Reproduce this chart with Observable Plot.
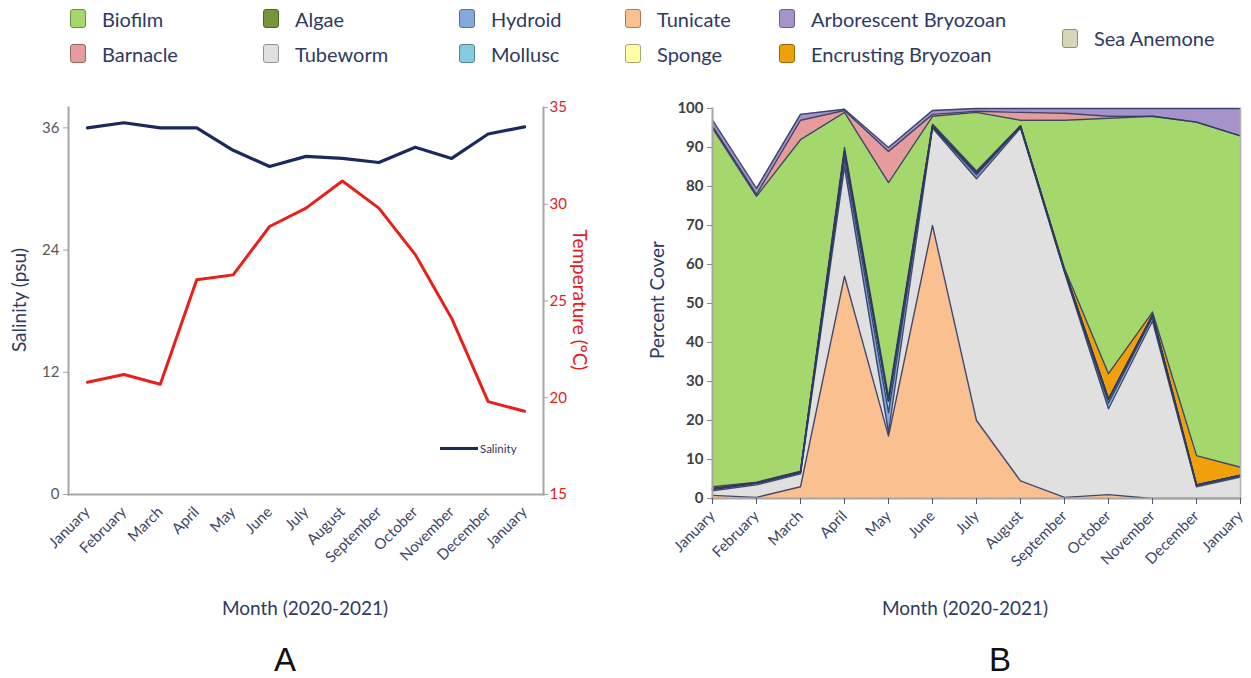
<!DOCTYPE html>
<html>
<head>
<meta charset="utf-8">
<script src="https://cdn.jsdelivr.net/npm/d3@7"></script>
<script src="https://cdn.jsdelivr.net/npm/@observablehq/plot@0.6"></script>
<style>
  html, body { margin: 0; padding: 0; background: #fff; }
  body { width: 1251px; height: 678px; position: relative; overflow: hidden; font-family: Lato, "Open Sans", sans-serif; }
  .abs { position: absolute; }
  #legend { position: absolute; left: 70px; top: 1px; display: grid;
    grid-template-columns: 193px 196px 166px 154px 283px auto; grid-template-rows: 35px 35px; }
  .item { display: flex; align-items: center; font-size: 20px; color: #2e3a63; white-space: nowrap; }
  .sw { width: 16px; height: 19px; border-radius: 3px; margin-right: 16px; box-sizing: border-box; border: 1.5px solid; }
  .xtitle { position: absolute; font-size: 19px; color: #2e3a63; transform: translate(-50%, -50%); white-space: nowrap; }
  .ytitle { position: absolute; font-size: 19px; color: #2e3a63; white-space: nowrap; }
  .panel { position: absolute; font-family: "Liberation Sans", Arial, sans-serif; font-size: 33px; color: #111; transform: translate(-50%, -50%); }
  svg g[aria-label="y-axis tick label"] { font-size: 15px; }
  svg g[aria-label="x-axis tick label"] { font-size: 15px; }
</style>
</head>
<body>
<div id="legend"></div>
<div id="chartA" class="abs" style="left:0px;top:90px;"></div>
<div id="chartB" class="abs" style="left:620px;top:90px;"></div>
<div class="ytitle" style="left:18px;top:300px;transform:translate(-50%,-50%) rotate(-90deg);">Salinity (psu)</div>
<div class="ytitle" style="left:580px;top:300px;color:#e0201c;transform:translate(-50%,-50%) rotate(90deg);">Temperature (°C)</div>
<div class="ytitle" style="left:656px;top:300px;transform:translate(-50%,-50%) rotate(-90deg);">Percent Cover</div>
<div class="xtitle" style="left:305px;top:607px;">Month (2020-2021)</div>
<div class="xtitle" style="left:965px;top:607px;">Month (2020-2021)</div>
<div class="panel" style="left:285px;top:660px;">A</div>
<div class="panel" style="left:1000px;top:660px;">B</div>
<div class="abs" style="left:440px;top:439px;display:flex;align-items:center;height:18px;">
  <div style="width:38px;height:3px;background:#1b2a5c;"></div>
  <div style="font-size:11.5px;color:#2e3a63;margin-left:2px;">Salinity</div>
</div>
<script>
// ---------- DATA ----------
const months = ["January","February","March","April","May","June","July","August","September","October","November","December","January"];
const salinity = [36.0, 36.5, 36.0, 36.0, 33.8, 32.2, 33.2, 33.0, 32.6, 34.1, 33.0, 35.4, 36.1];
const temperature = [20.8, 21.2, 20.7, 26.1, 26.35, 28.85, 29.8, 31.2, 29.8, 27.4, 24.1, 19.8, 19.3];
const salinityTicks = [0, 12, 24, 36];
const temperatureTicks = [15, 20, 25, 30, 35];
const coverTicks = [0, 10, 20, 30, 40, 50, 60, 70, 80, 90, 100];

// stacked from bottom to top
const seriesNames = ["Tunicate","Tubeworm","Hydroid","Mollusc","Sponge","Sea Anemone","Algae","Encrusting Bryozoan","Biofilm","Barnacle","Arborescent Bryozoan"];
const tunicate    = [0.8, 0.3, 3, 57, 16, 70, 20, 4.5, 0.3, 1, 0, 0, 0];
const tubeworm    = [1.2, 3.2, 3.3, 28, 1, 25, 62, 90.5, 57.7, 22, 45.5, 3, 5.5];
const hydroid     = [0.3, 0.3, 0.3, 2, 5, 0.3, 1, 0.3, 0.3, 1.5, 1, 0.3, 0.3];
const mollusc     = [0.2, 0.2, 0.2, 2, 3, 0.2, 0.5, 0.2, 0.2, 1, 0.5, 0.2, 0.2];
const sponge      = [0, 0, 0, 0, 0, 0, 0, 0, 0, 0, 0, 0, 0];
const seaAnemone  = [0, 0, 0, 0, 0, 0, 0, 0, 0, 0, 0, 0, 0];
const algae       = [0, 0, 0, 0, 0, 0, 0, 0, 0, 0, 0, 0, 0];
const encrusting  = [0.5, 0.2, 0.2, 1, 1, 0.5, 0.5, 0.1, 0.5, 6.5, 0.8, 7.5, 2];
const biofilm     = [92, 73.3, 85, 9, 55, 2, 15, 1.4, 38, 65.5, 50.2, 85.5, 85];
const barnacle    = [0.5, 0.5, 5, 0.5, 8, 0.5, 0.3, 2, 1.8, 0.5, 0, 0, 0];
const arborescent = [1.5, 1.5, 1.5, 0.3, 1, 1, 0.7, 1, 1.2, 2, 2, 3.5, 7];

// legend order
const legendNames = ["Biofilm","Algae","Hydroid","Tunicate","Arborescent Bryozoan","Sea Anemone","Barnacle","Tubeworm","Mollusc","Sponge","Encrusting Bryozoan"];
const seriesColors = {
  "Biofilm": "#a5d86c", "Barnacle": "#e69c9c", "Algae": "#76963c", "Tubeworm": "#e0e0e0",
  "Hydroid": "#86a9dc", "Mollusc": "#86cce0", "Tunicate": "#fac08f", "Sponge": "#ffffa8",
  "Arborescent Bryozoan": "#a693c9", "Encrusting Bryozoan": "#f0a00a", "Sea Anemone": "#d8d5bb"
};

// ---------- LEGEND ----------
const legend = document.getElementById("legend");
const place = {
  "Biofilm": [1,1], "Algae": [2,1], "Hydroid": [3,1], "Tunicate": [4,1], "Arborescent Bryozoan": [5,1],
  "Barnacle": [1,2], "Tubeworm": [2,2], "Mollusc": [3,2], "Sponge": [4,2], "Encrusting Bryozoan": [5,2]
};
for (const name of legendNames) {
  const it = document.createElement("div");
  it.className = "item";
  if (name === "Sea Anemone") {
    it.style.gridColumn = "6"; it.style.gridRow = "1 / 3"; it.style.marginTop = "4px";
  } else {
    it.style.gridColumn = place[name][0]; it.style.gridRow = place[name][1];
  }
  const sw = document.createElement("div");
  sw.className = "sw";
  sw.style.background = seriesColors[name];
  sw.style.borderColor = d3.color(seriesColors[name]).darker(1.2).formatHex();
  it.appendChild(sw);
  it.appendChild(document.createTextNode(name));
  legend.appendChild(it);
}

// ---------- CHART A ----------
const salMax = 38;
const toSal = t => (t - 15) / 20 * salMax;
const fromSal = s => 15 + s / salMax * 20;
const lineData = months.map((m, i) => ({i, month: m, salinity: salinity[i], temperature: temperature[i], tScaled: toSal(temperature[i])}));

const chartA = Plot.plot({
  width: 610, height: 500,
  marginLeft: 68, marginRight: 67, marginTop: 17, marginBottom: 96,
  style: {fontFamily: "Lato, 'Open Sans', sans-serif", fontSize: "15px", color: "#595959", background: "transparent"},
  x: {type: "linear", domain: [-0.52, 12.52]},
  y: {domain: [0, salMax]},
  marks: [
    Plot.frame({anchor: "left", stroke: "#a6a6a6", strokeWidth: 2}),
    Plot.frame({anchor: "right", stroke: "#a6a6a6", strokeWidth: 2}),
    Plot.frame({anchor: "bottom", stroke: "#a6a6a6", strokeWidth: 2}),
    Plot.axisY(salinityTicks, {anchor: "left", tickSize: 5, stroke: "#a6a6a6", fill: "#595959", tickPadding: 4, label: null}),
    Plot.axisY(temperatureTicks.map(toSal), {anchor: "right", tickSize: 4, stroke: "#a6a6a6", fill: "#e0201c", tickPadding: 2,
      tickFormat: d => String(Math.round(fromSal(d))), label: null}),
    Plot.axisX(d3.range(months.length), {anchor: "bottom", tickSize: 0, tickPadding: 15, tickRotate: -45,
      tickFormat: i => months[i], fill: "#3c4668", label: null}),
    Plot.lineY(lineData, {x: "i", y: "tScaled", stroke: "#e8201c", strokeWidth: 3}),
    Plot.lineY(lineData, {x: "i", y: "salinity", stroke: "#1b2a5c", strokeWidth: 3.2})
  ]
});
document.getElementById("chartA").appendChild(chartA);

// ---------- CHART B ----------
const seriesValues = {
  "Tunicate": tunicate, "Tubeworm": tubeworm, "Hydroid": hydroid, "Mollusc": mollusc, "Sponge": sponge,
  "Sea Anemone": seaAnemone, "Algae": algae, "Encrusting Bryozoan": encrusting, "Biofilm": biofilm,
  "Barnacle": barnacle, "Arborescent Bryozoan": arborescent
};
const coverData = seriesNames.flatMap(s => seriesValues[s].map((v, i) => ({series: s, i, month: months[i], value: v})));

const chartB = Plot.plot({
  width: 631, height: 500,
  marginLeft: 92, marginRight: 11, marginTop: 18, marginBottom: 92,
  style: {fontFamily: "Lato, 'Open Sans', sans-serif", fontSize: "15px", color: "#404040", background: "transparent"},
  x: {type: "linear", domain: [0, 12]},
  y: {domain: [0, 100]},
  color: {domain: seriesNames, range: seriesNames.map(s => seriesColors[s])},
  marks: [
    Plot.areaY(coverData, {x: "i", y: "value", z: "series", fill: "series", order: seriesNames, curve: "linear"}),
    Plot.lineY(coverData, Plot.stackY2({x: "i", y: "value", z: "series", order: seriesNames,
      stroke: "#2f3a60", strokeWidth: 1.4, strokeOpacity: 0.9})),
    Plot.frame({anchor: "left", stroke: "#a6a6a6", strokeWidth: 2}),
    Plot.frame({anchor: "right", stroke: "#b0b0b0", strokeWidth: 1.5}),
    Plot.frame({anchor: "bottom", stroke: "#a6a6a6", strokeWidth: 2}),
    Plot.axisY(coverTicks, {anchor: "left", tickSize: 5, stroke: "#8c8c8c", fill: "#404040", fontWeight: "bold", tickPadding: 4, label: null}),
    Plot.axisX(d3.range(months.length), {anchor: "bottom", tickSize: 6, stroke: "#505a78", tickPadding: 9, tickRotate: -45,
      tickFormat: i => months[i], fill: "#3c4668", label: null})
  ]
});
document.getElementById("chartB").appendChild(chartB);
</script>
</body>
</html>
